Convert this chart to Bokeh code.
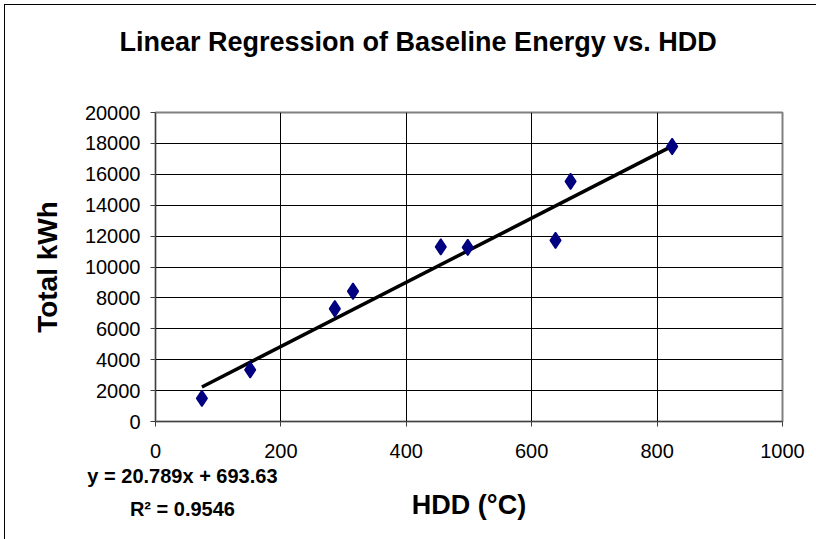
from bokeh.plotting import figure
from bokeh.models import Range1d, FixedTicker, LinearAxis, Title
from bokeh.embed import file_html
from bokeh.resources import INLINE

# data
hdd = [74, 151, 286, 315, 455, 498, 638, 662, 824]
kwh = [1500, 3340, 7300, 8430, 11300, 11270, 11720, 15540, 17800]
slope = 20.789
intercept = 693.63
r2 = 0.9546
x_ticks = [0, 200, 400, 600, 800, 1000]
y_ticks = [0, 2000, 4000, 6000, 8000, 10000, 12000, 14000, 16000, 18000, 20000]
title_text = "Linear Regression of Baseline Energy vs. HDD"
x_title = "HDD (°C)"
y_title = "Total kWh"
eq_text = "y = %.3fx + %.2f" % (slope, intercept)
r2_text = "R² = %.4f" % r2

W, H = 816, 539
FONT = "Liberation Sans"
EQ_X = 43  # horizontal anchor (data units) for the regression text

p = figure(width=W, height=H, output_backend="svg", toolbar_location=None,
           x_range=Range1d(0, 1000), y_range=Range1d(0, 20000),
           min_border_left=155, min_border_right=34, min_border_top=112,
           min_border_bottom=118)
p.background_fill_color = "white"
p.border_fill_alpha = 0
p.outline_line_color = "#808080"
p.outline_line_width = 2
p.styles = {
    "background-color": "white",
    "background-image": "linear-gradient(black, black), linear-gradient(black, black)",
    "background-size": "1px 100%, 100% 1px",
    "background-position": "4px 4px, 4px 4px",
    "background-repeat": "no-repeat",
}

# title
p.title.text = title_text
p.title.align = "left"
p.title.vertical_align = "top"
p.title.offset = -36
p.title.standoff = 9
p.title.text_font = FONT
p.title.text_font_size = "27px"
p.title.text_font_style = "bold"
p.title.text_color = "black"
# empty spacer between the title and the plot area
p.add_layout(Title(text=" ", text_font_size="10px", standoff=36), "above")

for ax in (p.xaxis[0], p.yaxis[0]):
    ax.major_label_text_font = FONT
    ax.major_label_text_font_size = "20px"
    ax.major_label_text_color = "black"
    ax.minor_tick_line_color = None
    ax.major_tick_in = 0
    ax.major_tick_out = 5
    ax.major_tick_line_color = "#404040"
    ax.axis_line_color = "#404040"
    ax.axis_line_width = 1
p.xaxis[0].ticker = FixedTicker(ticks=x_ticks)
p.yaxis[0].ticker = FixedTicker(ticks=y_ticks)
p.xaxis[0].major_label_standoff = 17
p.yaxis[0].major_label_standoff = 10

p.yaxis[0].axis_label = y_title
p.yaxis[0].axis_label_text_font = FONT
p.yaxis[0].axis_label_text_font_size = "28px"
p.yaxis[0].axis_label_text_font_style = "bold"
p.yaxis[0].axis_label_text_color = "black"
p.yaxis[0].axis_label_standoff = 19

# second bottom axis carrying the regression text and the x title
eq_axis = LinearAxis(ticker=FixedTicker(ticks=[EQ_X]),
                     major_label_overrides={EQ_X: eq_text + "\n" + r2_text})
eq_axis.axis_line_color = None
eq_axis.major_tick_line_color = None
eq_axis.minor_tick_line_color = None
eq_axis.major_tick_out = 0
eq_axis.major_tick_in = 0
eq_axis.major_label_standoff = 4
eq_axis.major_label_text_font = FONT
eq_axis.major_label_text_font_size = "20px"
eq_axis.major_label_text_font_style = "bold"
eq_axis.major_label_text_color = "black"
eq_axis.major_label_text_line_height = 1.53
eq_axis.axis_label = x_title
eq_axis.axis_label_text_font = FONT
eq_axis.axis_label_text_font_size = "27px"
eq_axis.axis_label_text_font_style = "bold"
eq_axis.axis_label_text_color = "black"
eq_axis.axis_label_standoff = -33
p.add_layout(eq_axis, "below")

p.xgrid.ticker = FixedTicker(ticks=x_ticks)
p.ygrid.ticker = FixedTicker(ticks=y_ticks)
for g in (p.xgrid[0], p.ygrid[0]):
    g.grid_line_color = "black"
    g.grid_line_width = 1

# trend line over the data span
x0, x1 = min(hdd), max(hdd)
p.line([x0, x1], [slope * x0 + intercept, slope * x1 + intercept],
       line_color="black", line_width=3.5)
p.scatter(hdd, kwh, marker="diamond", size=16, fill_color="#000080",
          line_color="#000080", line_width=1.5)

open("out.html", "w").write(file_html(p, INLINE))
